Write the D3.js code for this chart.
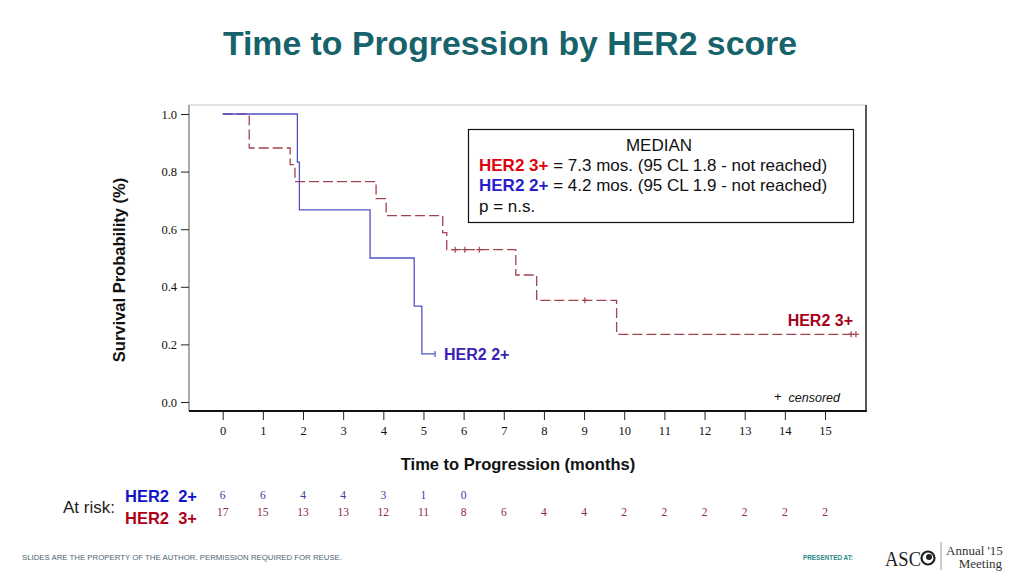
<!DOCTYPE html>
<html>
<head>
<meta charset="utf-8">
<script src="https://cdn.jsdelivr.net/npm/d3@7"></script>
<style>
html,body{margin:0;padding:0;background:#fff;}
svg{display:block;}
</style>
</head>
<body>
<svg id="chart" width="1024" height="576"></svg>
<script>
// ---- data ----
const xTicks = [0,1,2,3,4,5,6,7,8,9,10,11,12,13,14,15];
const yTicks = [0.0,0.2,0.4,0.6,0.8,1.0];

const her2Times = [0, 1.86, 1.91, 3.67, 4.77, 4.96];
const her2Surv  = [1.0, 0.833, 0.667, 0.5, 0.333, 0.167];
const her2End = 5.29;
const her2Censor = [5.29];

const her3Times = [0, 0.66, 1.68, 1.80, 3.82, 4.07, 5.48, 5.58, 7.30, 7.82, 9.81];
const her3Surv  = [1.0, 0.882, 0.824, 0.765, 0.706, 0.647, 0.588, 0.529, 0.441, 0.353, 0.235];
const her3End = 15.77;
const her3Censor = [5.79, 6.03, 6.39, 9.02, 15.65, 15.77];

const riskTimes = [0,1,2,3,4,5,6,7,8,9,10,11,12,13,14,15];
const risk2 = [6,6,4,4,3,1,0];
const risk3 = [17,15,13,13,12,11,8,6,4,4,2,2,2,2,2,2];

// ---- drawing ----
const svg = d3.select("#chart");
const sans = "'Liberation Sans', Arial, sans-serif";
const serif = "'Liberation Serif', 'Times New Roman', serif";

const x = d3.scaleLinear().domain([0,15]).range([222.7, 825]);
const y = d3.scaleLinear().domain([0,1]).range([402, 114]);

// title
svg.append("text").attr("x",510).attr("y",55).attr("text-anchor","middle")
  .attr("font-family",sans).attr("font-weight","bold").attr("font-size",33.8)
  .attr("fill","#17636b").text("Time to Progression by HER2 score");

// frame
const fL=189, fR=866, fT=105, fB=411;
svg.append("line").attr("x1",fL).attr("x2",fR).attr("y1",fT).attr("y2",fT).attr("stroke","#c4c4c4").attr("stroke-width",1);
svg.append("line").attr("x1",fL).attr("x2",fL).attr("y1",fT).attr("y2",fB).attr("stroke","#555").attr("stroke-width",1);
svg.append("line").attr("x1",fR).attr("x2",fR).attr("y1",fT).attr("y2",fB+1).attr("stroke","#222").attr("stroke-width",1.5);
svg.append("line").attr("x1",fL).attr("x2",fR+0.7).attr("y1",fB).attr("y2",fB).attr("stroke","#111").attr("stroke-width",1.8);

// y axis
const yAxis = d3.axisLeft(y).tickValues(yTicks).tickFormat(d3.format(".1f")).tickSize(8).tickPadding(4);
const gy = svg.append("g").attr("transform",`translate(${fL},0)`).call(yAxis);
gy.select(".domain").remove();
gy.selectAll(".tick line").attr("stroke","#222");
gy.selectAll(".tick text").attr("font-family",serif).attr("font-size",12.5).attr("fill","#111");

// x axis
const xAxis = d3.axisBottom(x).tickValues(xTicks).tickFormat(d3.format("d")).tickSize(9).tickPadding(6);
const gx = svg.append("g").attr("transform",`translate(0,${fB})`).call(xAxis);
gx.select(".domain").remove();
gx.selectAll(".tick line").attr("stroke","#222");
gx.selectAll(".tick text").attr("font-family",serif).attr("font-size",12.5).attr("fill","#111");

// axis titles
svg.append("text").attr("transform","translate(125,270) rotate(-90)").attr("text-anchor","middle")
  .attr("font-family",sans).attr("font-weight","bold").attr("font-size",16.5).attr("fill","#111")
  .text("Survival Probability (%)");
svg.append("text").attr("x",518).attr("y",470).attr("text-anchor","middle")
  .attr("font-family",sans).attr("font-weight","bold").attr("font-size",16.5).attr("fill","#111")
  .text("Time to Progression (months)");

// curves
function stepPts(times, surv, end){
  const pts = times.map((t,i)=>[t,surv[i]]);
  pts.push([end, surv[surv.length-1]]);
  return pts;
}
function survAt(times, surv, t){
  let s = surv[0];
  for(let i=0;i<times.length;i++){ if(times[i]<=t) s=surv[i]; }
  return s;
}
const line = d3.line().x(d=>x(d[0])).y(d=>y(d[1])).curve(d3.curveStepAfter);

const c3 = "#a34350", c2 = "#5252c8";
svg.append("path").datum(stepPts(her3Times,her3Surv,her3End)).attr("d",line)
  .attr("fill","none").attr("stroke",c3).attr("stroke-width",1.3).attr("stroke-dasharray","10,4");
svg.append("path").datum(stepPts(her2Times,her2Surv,her2End)).attr("d",line)
  .attr("fill","none").attr("stroke",c2).attr("stroke-width",1.3);

// censor marks
svg.selectAll(".c3").data(her3Censor).enter().append("line")
  .attr("x1",d=>x(d)).attr("x2",d=>x(d))
  .attr("y1",d=>y(survAt(her3Times,her3Surv,d))-3).attr("y2",d=>y(survAt(her3Times,her3Surv,d))+3)
  .attr("stroke",c3).attr("stroke-width",1.2);
svg.selectAll(".c3h").data(her3Censor).enter().append("line")
  .attr("x1",d=>x(d)-3).attr("x2",d=>x(d)+3)
  .attr("y1",d=>y(survAt(her3Times,her3Surv,d))).attr("y2",d=>y(survAt(her3Times,her3Surv,d)))
  .attr("stroke",c3).attr("stroke-width",1.2);
svg.selectAll(".c2").data(her2Censor).enter().append("line")
  .attr("x1",d=>x(d)).attr("x2",d=>x(d))
  .attr("y1",d=>y(survAt(her2Times,her2Surv,d))-3).attr("y2",d=>y(survAt(her2Times,her2Surv,d))+3)
  .attr("stroke",c2).attr("stroke-width",1.2);

// curve labels
svg.append("text").attr("x",444).attr("y",360).attr("font-family",sans).attr("font-size",16)
  .attr("font-weight","bold").attr("fill","#3a22b4").text("HER2 2+");
svg.append("text").attr("x",853).attr("y",326).attr("text-anchor","end").attr("font-family",sans).attr("font-size",16)
  .attr("font-weight","bold").attr("fill","#a8001c").text("HER2 3+");
svg.append("text").attr("x",840).attr("y",402).attr("text-anchor","end").attr("font-family",sans).attr("font-size",12.5)
  .attr("fill","#111").attr("font-style","italic").text("censored");
svg.append("text").attr("x",774).attr("y",401).attr("font-family",sans).attr("font-size",13)
  .attr("fill","#111").text("+");

// legend box
svg.append("rect").attr("x",468.5).attr("y",129.5).attr("width",385).attr("height",93)
  .attr("fill","#fff").attr("stroke","#111").attr("stroke-width",1.2);
const lg = svg.append("g").attr("font-family",sans).attr("font-size",17).attr("fill","#111");
lg.append("text").attr("x",659).attr("y",151).attr("text-anchor","middle").text("MEDIAN");
const l1 = lg.append("text").attr("x",479).attr("y",171);
l1.append("tspan").attr("fill","#e0000a").attr("font-weight","bold").text("HER2 3+");
l1.append("tspan").text(" = 7.3 mos. (95 CL 1.8 - not reached)");
const l2 = lg.append("text").attr("x",479).attr("y",191);
l2.append("tspan").attr("fill","#2a1ccc").attr("font-weight","bold").text("HER2 2+");
l2.append("tspan").text(" = 4.2 mos. (95 CL 1.9 - not reached)");
lg.append("text").attr("x",479).attr("y",212).text("p = n.s.");

// at risk
svg.append("text").attr("x",63).attr("y",513).attr("font-family",sans).attr("font-size",17)
  .attr("fill","#222").text("At risk:");
svg.append("text").attr("x",125).attr("y",502).attr("font-family",sans).attr("font-size",16.5)
  .attr("font-weight","bold").attr("fill","#1212c8").attr("xml:space","preserve").text("HER2  2+");
svg.append("text").attr("x",125).attr("y",524).attr("font-family",sans).attr("font-size",16.5)
  .attr("font-weight","bold").attr("fill","#b00018").attr("xml:space","preserve").text("HER2  3+");
svg.selectAll(".r2").data(risk2).enter().append("text")
  .attr("x",(d,i)=>x(riskTimes[i])).attr("y",499).attr("text-anchor","middle")
  .attr("font-family",serif).attr("font-size",11.5).attr("fill","#3a3aa0").text(d=>d);
svg.selectAll(".r3").data(risk3).enter().append("text")
  .attr("x",(d,i)=>x(riskTimes[i])).attr("y",516).attr("text-anchor","middle")
  .attr("font-family",serif).attr("font-size",11.5).attr("fill","#8a2a44").text(d=>d);

// footer
svg.append("text").attr("x",22).attr("y",560).attr("font-family",sans).attr("font-size",8)
  .attr("fill","#4e6470").attr("textLength",320).attr("lengthAdjust","spacingAndGlyphs")
  .text("SLIDES ARE THE PROPERTY OF THE AUTHOR. PERMISSION REQUIRED FOR REUSE.");
svg.append("text").attr("x",803).attr("y",560).attr("font-family",sans).attr("font-size",8)
  .attr("font-weight","bold").attr("fill","#2e8a8a").attr("textLength",50).attr("lengthAdjust","spacingAndGlyphs")
  .text("PRESENTED AT:");
svg.append("text").attr("x",885).attr("y",566).attr("font-family",serif).attr("font-size",20)
  .attr("fill","#222").attr("textLength",36).attr("lengthAdjust","spacingAndGlyphs").text("ASC");
svg.append("circle").attr("cx",928).attr("cy",558).attr("r",6.5).attr("fill","none").attr("stroke","#222").attr("stroke-width",2.2);
svg.append("circle").attr("cx",929).attr("cy",557).attr("r",3).attr("fill","#222");
svg.append("line").attr("x1",941).attr("x2",941).attr("y1",542).attr("y2",570).attr("stroke","#999").attr("stroke-width",1);
svg.append("text").attr("x",946).attr("y",555).attr("font-family",serif).attr("font-size",13)
  .attr("fill","#333").text("Annual '15");
svg.append("text").attr("x",1002).attr("y",568).attr("text-anchor","end").attr("font-family",serif).attr("font-size",13)
  .attr("fill","#333").text("Meeting");
</script>
</body>
</html>
